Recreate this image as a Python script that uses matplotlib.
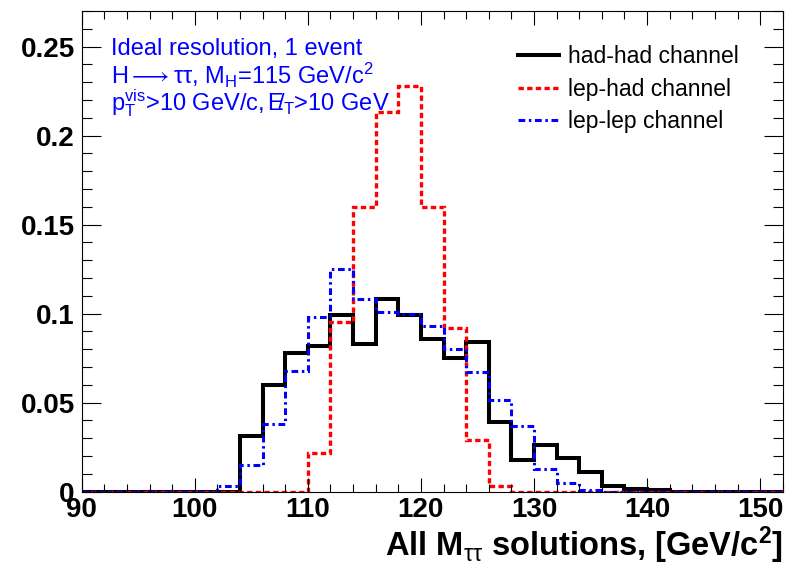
import numpy as np
import matplotlib.pyplot as plt
from matplotlib.ticker import MultipleLocator
from matplotlib.lines import Line2D

plt.rcParams['font.family'] = ['Liberation Sans', 'DejaVu Sans']
plt.rcParams['mathtext.fontset'] = 'custom'
plt.rcParams['mathtext.rm'] = 'Liberation Sans'
plt.rcParams['mathtext.it'] = 'Liberation Sans'
plt.rcParams['mathtext.bf'] = 'Liberation Sans:bold'

# 2 GeV bins from 90 to 152
bin_edges = np.arange(90, 153, 2)

had_had = [0, 0, 0, 0, 0, 0, 0,
           0.031, 0.060, 0.078, 0.082, 0.099, 0.083, 0.108, 0.099, 0.086,
           0.075, 0.084, 0.039, 0.018, 0.026, 0.019, 0.011, 0.003, 0.0015, 0.001,
           0, 0, 0, 0, 0]
lep_had = [0, 0, 0, 0, 0, 0, 0, 0, 0, 0,
           0.022, 0.0955, 0.160, 0.213, 0.228, 0.160, 0.092, 0.029, 0.0034,
           0, 0, 0, 0, 0, 0, 0, 0, 0, 0, 0, 0]
lep_lep = [0, 0, 0, 0, 0, 0,
           0.003, 0.015, 0.038, 0.068, 0.098, 0.125, 0.108, 0.101, 0.100,
           0.093, 0.080, 0.067, 0.0515, 0.037, 0.013, 0.005, 0.001,
           0, 0, 0, 0, 0, 0, 0, 0]

labels = ["had-had channel", "lep-had channel", "lep-lep channel"]
colors = ["black", "#ff0000", "#0000ff"]
widths = [2.9, 2.4, 2.2]
styles = ["-", (0, (1.6, 1.0)), (0, (2.2, 1.2, 0.8, 1.2))]

fig = plt.figure(figsize=(7.92, 5.66), dpi=100)
ax = fig.add_axes([0.1032, 0.1313, 0.8851, 0.8493])

for vals, c, lw, ls, lab in zip([had_had, lep_had, lep_lep], colors, widths, styles, labels):
    ax.stairs(vals, bin_edges, color=c, lw=lw, linestyle=ls, label=lab)

ax.set_xlim(90, 152)
ax.set_ylim(0, 0.27)

ax.xaxis.set_major_locator(MultipleLocator(10))
ax.xaxis.set_minor_locator(MultipleLocator(2))
ax.yaxis.set_minor_locator(MultipleLocator(0.01))
ax.set_yticks([0, 0.05, 0.1, 0.15, 0.2, 0.25])
ax.set_yticklabels(["0", "0.05", "0.1", "0.15", "0.2", "0.25"])

ax.tick_params(which='both', direction='in', top=True, right=True, width=0.8)
ax.tick_params(axis='y', which='major', length=14, pad=5)
ax.tick_params(axis='y', which='minor', length=7)
ax.tick_params(axis='x', which='major', length=10, pad=4)
ax.tick_params(axis='x', which='minor', length=5.5)
for lab in ax.get_xticklabels() + ax.get_yticklabels():
    lab.set_fontsize(20)
    lab.set_fontweight('bold')
for sp in ax.spines.values():
    sp.set_linewidth(0.8)

ax.set_xlabel(r"All M$_{\tau\tau}$ solutions, [GeV/c$^{\mathbf{2}}$]", fontsize=23.5,
              fontweight='bold', ha='right', x=1.0, labelpad=1)

# info text
blue = "#0000ff"
ax.text(0.042, 0.921, "Ideal resolution, 1 event", transform=ax.transAxes,
        color=blue, fontsize=17, va='center')
ax.text(0.042, 0.866, r"H$\longrightarrow\tau\tau$, M$_{H}$=115 GeV/c$^{2}$", transform=ax.transAxes,
        color=blue, fontsize=17, va='center')
ax.text(0.042, 0.808, r"p$_{T}^{vis}$>10 GeV/c, $\ /\!\!\!\!\!E_{T}$>10 GeV", transform=ax.transAxes,
        color=blue, fontsize=17, va='center')

handles = [Line2D([], [], color=c, lw=lw, linestyle=ls) for c, lw, ls in zip(colors, widths, styles)]
ax.legend(handles, labels, loc='upper left', bbox_to_anchor=(0.623, 0.929), frameon=False,
          fontsize=16.5, handlelength=1.75, handletextpad=0.4, labelspacing=0.42,
          borderpad=0, borderaxespad=0)

fig.savefig("out.png", dpi=100)
